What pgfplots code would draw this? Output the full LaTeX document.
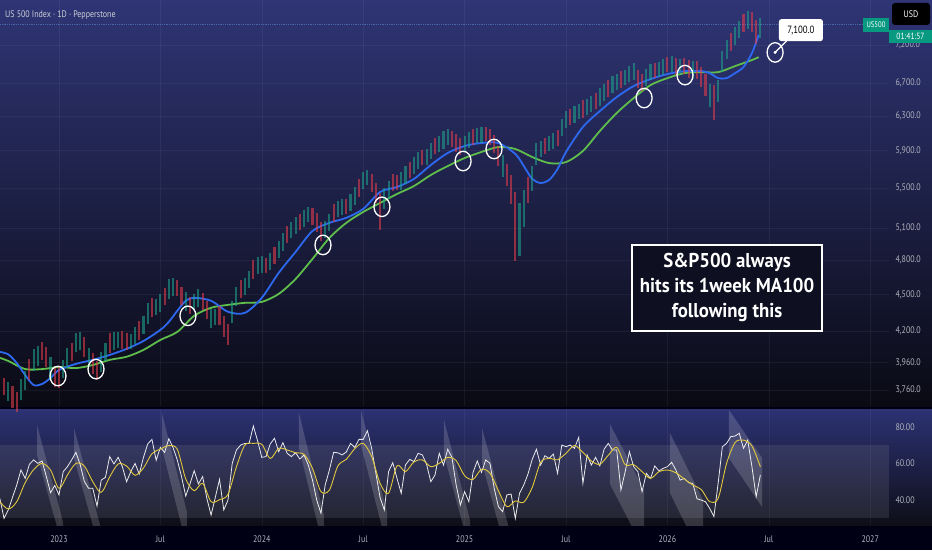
\documentclass[border=0pt]{standalone}
\usepackage{pgfplots}
\pgfplotsset{compat=1.18}
\usepackage{pgfplotstable}
\usepackage{fontspec}
\setmainfont{PT Sans}
\newfontfamily\uifont[FakeStretch=0.84]{PT Sans}
\newfontfamily\boxfont[FakeStretch=0.94]{PT Sans Bold}
\definecolor{bgtop}{RGB}{47,53,117}
\definecolor{bgmid}{RGB}{26,29,68}
\definecolor{bgbot}{RGB}{10,10,20}
\definecolor{rsitop}{RGB}{44,50,115}
\definecolor{rsibot}{RGB}{14,14,24}
\definecolor{tickc}{RGB}{178,181,190}
\definecolor{upc}{RGB}{30,160,138}
\definecolor{dnc}{RGB}{225,60,75}
\definecolor{mablue}{RGB}{45,105,240}
\definecolor{magreen}{RGB}{95,190,75}
\definecolor{rsiy}{RGB}{225,200,60}
\definecolor{tvteal}{RGB}{8,153,129}
\definecolor{boxfill}{RGB}{14,15,33}

% x = months since Jan 2023, m = price, e = half range, c = up(1)/down(0), r = RSI
\pgfplotstableread{
x m e c r
-3.50 3831 45 0 40.9
-3.25 3784 40 0 30.0
-3.00 3749 45 1 34.6
-2.75 3712 50 0 41.5
-2.50 3675 45 0 48.2
-2.25 3762 50 1 56.4
-2.00 3827 45 1 51.8
-1.75 3906 50 0 59.5
-1.50 3977 55 1 61.9
-1.25 4011 50 1 60.0
-1.00 4046 45 0 61.3
-0.75 4000 50 0 52.9
-0.50 3914 55 1 44.0
-0.25 3849 45 0 48.0
0.00 3848 50 0 42.8
0.25 3911 45 1 55.5
0.50 3994 50 1 58.2
0.75 4041 45 0 61.9
1.00 4111 50 1 66.0
1.25 4123 45 1 59.5
1.50 4077 50 0 50.2
1.75 4000 45 1 46.4
2.00 3953 50 0 46.4
2.25 3900 45 0 36.7
2.50 3965 50 1 50.9
2.75 4041 45 1 52.4
3.00 4108 50 0 63.7
3.25 4122 45 1 59.7
3.50 4131 40 1 63.3
3.75 4131 45 0 58.2
4.00 4119 45 0 50.0
4.25 4119 40 1 55.5
4.50 4166 45 1 60.0
4.75 4205 50 0 54.2
5.00 4249 50 1 63.3
5.25 4342 55 1 70.6
5.50 4391 50 0 73.1
5.75 4396 45 1 61.7
6.00 4432 50 1 68.7
6.25 4483 50 0 66.0
6.50 4548 55 1 73.5
6.75 4564 50 1 68.6
7.00 4556 45 0 61.9
7.25 4485 50 0 52.8
7.50 4441 50 1 42.2
7.75 4409 45 0 48.8
8.00 4437 45 1 56.0
8.25 4472 50 1 48.8
8.50 4442 45 0 52.8
8.75 4372 50 0 40.9
9.00 4301 50 1 31.8
9.25 4314 45 1 41.5
9.50 4325 50 0 51.3
9.75 4235 55 0 34.6
10.00 4170 55 0 40.0
10.25 4355 60 1 60.0
10.50 4482 55 1 67.3
10.75 4545 50 0 70.0
11.00 4570 50 1 70.9
11.25 4632 50 1 70.9
11.50 4717 55 0 80.4
11.75 4749 50 1 72.4
12.00 4761 50 1 63.3
12.25 4751 45 0 63.7
12.50 4789 50 1 70.6
12.75 4842 50 0 73.7
13.00 4898 55 1 66.4
13.25 4966 55 1 71.3
13.50 5038 55 0 65.5
13.75 5084 50 1 63.7
14.00 5124 55 1 65.8
14.25 5160 50 0 62.4
14.50 5197 55 1 64.6
14.75 5234 50 1 59.1
15.00 5209 55 0 50.9
15.25 5151 60 0 40.0
15.50 5070 60 0 32.8
15.75 5085 55 1 48.2
16.00 5152 55 1 56.4
16.25 5246 60 0 66.0
16.50 5287 55 1 65.8
16.75 5307 55 1 64.6
17.00 5307 50 0 66.2
17.25 5350 55 1 70.9
17.50 5416 60 1 68.7
17.75 5501 60 0 73.1
18.00 5575 60 1 73.1
18.25 5611 55 1 77.8
18.50 5553 60 0 68.2
18.75 5450 70 0 54.6
19.00 5260 120 0 41.3
19.25 5389 70 1 34.6
19.50 5480 60 1 55.5
19.75 5560 60 0 60.4
20.00 5556 55 0 51.8
20.25 5573 60 1 43.7
20.50 5636 60 1 59.1
20.75 5687 55 0 62.2
21.00 5737 60 1 61.0
21.25 5795 60 1 65.5
21.50 5823 55 0 64.6
21.75 5830 55 1 59.5
22.00 5897 60 1 50.0
22.25 5949 60 0 53.7
22.50 5980 60 1 65.5
22.75 6021 65 1 59.1
23.00 6051 60 1 67.7
23.25 6035 60 0 63.3
23.50 5987 65 0 48.2
23.75 5947 65 0 37.3
24.00 5977 60 1 44.6
24.25 6016 60 1 39.1
24.50 6055 60 0 55.1
24.75 6070 55 1 61.3
25.00 6079 60 1 55.1
25.25 6086 55 0 61.9
25.50 6053 60 0 60.0
25.75 5977 65 0 46.4
26.00 5841 75 0 36.4
26.25 5731 80 1 33.7
26.50 5636 75 0 42.8
26.75 5480 100 0 43.3
27.00 5115 220 0 30.0
27.25 5088 170 1 43.7
27.50 5290 120 1 48.2
27.75 5480 90 0 54.2
28.00 5600 90 1 62.2
28.25 5862 80 1 67.7
28.50 5919 60 1 59.1
28.75 5955 60 0 64.2
29.00 5980 55 1 62.7
29.25 6003 60 1 65.1
29.50 6041 60 0 54.6
29.75 6168 65 1 70.0
30.00 6258 65 1 69.1
30.25 6285 60 0 70.0
30.50 6315 65 1 68.2
30.75 6357 60 1 74.2
31.00 6385 70 0 49.1
31.25 6406 65 1 64.6
31.50 6441 65 1 59.1
31.75 6481 65 0 63.3
32.00 6527 70 1 58.6
32.25 6579 70 1 67.7
32.50 6631 70 0 70.9
32.75 6683 70 1 67.3
33.00 6716 65 1 67.3
33.25 6745 70 0 45.5
33.50 6768 65 1 55.5
33.75 6814 70 1 66.4
34.00 6849 70 1 58.2
34.25 6752 75 0 55.5
34.50 6709 75 0 44.6
34.75 6771 70 1 54.6
35.00 6844 70 1 51.8
35.25 6859 65 0 58.6
35.50 6880 65 1 55.9
35.75 6908 70 1 57.3
36.00 6939 65 0 58.2
36.25 6944 70 1 60.6
36.50 6913 70 0 56.4
36.75 6917 65 1 50.9
37.00 6917 70 0 51.8
37.25 6879 75 0 49.5
37.50 6867 75 1 49.1
37.75 6867 80 0 40.7
38.00 6774 85 0 40.0
38.25 6675 90 0 39.1
38.50 6549 95 1 35.5
38.75 6460 140 0 31.0
39.00 6602 90 1 49.1
39.25 6978 90 1 69.1
39.50 7139 85 1 70.9
39.75 7243 80 0 74.6
40.00 7325 80 1 74.9
40.25 7413 80 1 76.4
40.50 7501 85 0 68.2
40.75 7546 85 1 72.7
41.00 7519 90 0 58.2
41.25 7376 110 0 41.8
41.50 7433 90 1 53.7
}\pxdata

\pgfplotstableread{
x b
-3.5 4039
-3.0 4020
-2.5 3956
-2.0 3867
-1.5 3795
-1.0 3802
-0.5 3846
0 3904
1 3949
2 3979
3 4016
4 4062
5 4123
6 4210
6.5 4274
7 4364
7.5 4447
8 4472
9 4447
10 4356
11 4347
12 4472
13 4687
14 4876
15 5072
16 5150
17 5199
18 5287
19 5459
20 5510
21 5594
22 5743
23 5875
24 5952
25 5986
26 5986
27 5864
27.5 5732
28 5594
28.5 5552
29 5583
29.5 5700
30 5886
31 6169
32 6357
33 6527
34 6664
35 6752
36 6816
37 6854
38 6854
38.5 6828
39 6764
39.5 6764
40 6828
40.5 6906
41 7091
41.4 7335
}\bluema

\pgfplotstableread{
x g
-3.5 3994
-3 3971
-2 3911
-1 3911
0 3926
1 3918
2 3941
3 3979
4 4002
5 4054
6 4131
7 4194
8 4323
9 4389
10 4413
11 4430
12 4438
13 4505
14 4634
15 4812
16 5006
17 5150
18 5257
19 5347
20 5438
21 5520
22 5636
23 5732
24 5819
25 5886
26 5941
27 5919
28 5830
29 5764
30 5775
31 5897
32 6123
33 6334
34 6515
35 6676
36 6764
37 6828
38 6841
39 6841
40 6919
41 6998
41.4 7038
}\greenma

\pgfplotstableread{
x y
-3.5 39.1
-3.0 35.1
-2.5 39.1
-2.0 49.5
-1.5 56.6
-1.0 60.0
-0.5 56.4
0.0 46.4
0.5 53.7
1.0 60.0
1.5 58.6
2.0 50.0
2.5 44.2
3.0 52.6
3.5 59.7
4.0 58.6
4.5 53.5
5.0 57.5
5.5 65.3
6.0 67.8
6.5 69.7
7.0 67.7
7.5 51.5
8.0 45.1
8.5 49.1
9.0 39.1
9.5 40.2
10.0 43.1
10.5 58.2
11.0 70.0
11.5 70.9
12.0 70.4
12.5 62.7
13.0 68.2
13.5 67.3
14.0 65.8
14.5 64.9
15.0 57.3
15.5 44.6
16.0 45.5
16.5 58.6
17.0 62.2
17.5 68.0
18.0 70.9
18.5 63.7
19.0 49.1
19.5 43.7
20.0 58.7
20.5 55.5
21.0 60.8
21.5 61.9
22.0 58.2
22.5 60.0
23.0 63.3
23.5 61.5
24.0 53.3
24.5 51.3
25.0 56.8
25.5 54.6
26.0 45.1
26.5 36.4
27.0 39.5
27.5 38.8
28.0 46.9
28.5 60.6
29.0 62.7
29.5 62.0
30.0 65.5
30.5 69.8
31.0 66.0
31.5 61.3
32.0 59.5
32.5 64.4
33.0 68.7
33.5 59.3
34.0 59.3
34.5 55.5
35.0 51.8
35.5 55.5
36.0 56.4
36.5 54.9
37.0 51.5
37.5 48.2
38.0 45.8
38.5 39.1
39.0 40.9
39.5 60.0
40.0 71.3
40.5 72.7
41.0 69.5
41.5 58.2
}\rsima

\begin{document}
\begin{tikzpicture}[x=1pt,y=1pt]
\fill[black!92!blue] (0pt,0pt) rectangle (932pt,550pt);
\shade[top color=bgtop, middle color=bgmid, bottom color=bgbot] (0pt,144pt) rectangle (932pt,550pt);
\shade[top color=rsitop, bottom color=rsibot] (0pt,25pt) rectangle (932pt,141pt);

% ---------- main price panel ----------
\begin{axis}[
  at={(0pt,144pt)}, anchor=south west, scale only axis,
  width=889pt, height=406pt,
  xmin=-3.49, xmax=49.11,
  ymode=log, ymin=3648.5, ymax=7837,
  axis line style={draw=none}, major tick length=0pt,
  xtick={0,6,...,48}, xticklabels={},
  ytick={3760,3960,4200,4500,4800,5100,5500,5900,6300,6700,7200},
  yticklabels={{3,760.0},{3,960.0},{4,200.0},{4,500.0},{4,800.0},{5,100.0},{5,500.0},{5,900.0},{6,300.0},{6,700.0},{7,200.0}},
  yticklabel pos=right,
  yticklabel style={anchor=west, xshift=3pt, font=\uifont\fontsize{9.5}{11}\selectfont, text=tickc},
  grid=major, grid style={white, opacity=0.05, line width=0.6pt},
]
\addplot[densely dotted, color={rgb,255:red,90;green,140;blue,210}, opacity=0.6, line width=0.8pt] coordinates {(-3.49,7491) (49.11,7491)};
\addplot[scatter, only marks, mark=|,
  point meta=\thisrow{c}, point meta min=0, point meta max=1,
  colormap={candle}{color=(dnc) color=(upc)},
  scatter/use mapped color={draw=mapped color, fill=mapped color},
  visualization depends on={800*\thisrow{e}/\thisrow{m} \as \hr},
  scatter/@pre marker code/.append style={/tikz/mark size=\hr pt},
  mark options={line width=2.1pt, opacity=0.6}] table[x=x, y=m] {\pxdata};
\addplot[magreen, line width=1.8pt, smooth] table[x=x, y=g] {\greenma};
\addplot[mablue, line width=1.8pt, smooth] table[x=x, y=b] {\bluema};
\addplot[only marks, mark=o, mark size=8pt, white, line width=1.3pt, mark options={yscale=1.22}]
  coordinates {(-0.06,3860) (2.19,3911) (7.63,4323) (15.62,4940) (19.11,5308) (23.91,5786) (25.74,5919) (34.62,6515) (37.04,6803) (42.37,7100)};
\addplot[only marks, mark=*, mark size=1.3pt, white] coordinates {(42.37,7100)};
\draw[white, line width=1.2pt] (axis cs:42.37,7100) -- (axis cs:43.2,7290);
\node[fill=white, rounded corners=2.5pt, text=black, font=\uifont\fontsize{10.5}{12}\selectfont, minimum width=44pt, minimum height=22pt, inner sep=0pt] at (axis cs:43.9,7404) {7,100.0};
\node[draw=white, line width=1.6pt, fill=boxfill, text=white, align=center, font=\boxfont\fontsize{20}{25}\selectfont, minimum width=190pt, minimum height=86pt, inner sep=0pt] at (axis cs:39.53,4556) {S\&P500 always\\hits its 1week MA100\\following this};
\end{axis}

% ---------- RSI panel ----------
\begin{axis}[
  at={(0pt,25pt)}, anchor=south west, scale only axis,
  width=889pt, height=116pt,
  xmin=-3.49, xmax=49.11, ymin=26.4, ymax=89.66,
  axis line style={draw=none}, major tick length=0pt,
  xtick={0,6,...,48},
  xticklabels={2023,Jul,2024,Jul,2025,Jul,2026,Jul,2027},
  xticklabel style={anchor=base, yshift=-17pt, font=\uifont\fontsize{9.5}{11}\selectfont, text=tickc},
  ytick={40,60,80}, yticklabels={40.00,60.00,80.00},
  yticklabel pos=right,
  yticklabel style={anchor=west, xshift=3pt, font=\uifont\fontsize{9.5}{11}\selectfont, text=tickc},
  xmajorgrids, grid style={white, opacity=0.05, line width=0.6pt},
]
\addplot[fill={rgb,255:red,150;green,150;blue,165}, fill opacity=0.16, draw=none] coordinates {(-3.49,30) (49.11,30) (49.11,70) (-3.49,70)};
\addplot[fill=white, fill opacity=0.16, draw=none] coordinates {(-1.30,80.9) (0.24,28.0) (0.24,13.6) (-1.30,64.6)};
\addplot[fill=white, fill opacity=0.16, draw=none] coordinates {(0.89,79.3) (2.43,26.4) (2.43,12.0) (0.89,62.9)};
\addplot[fill=white, fill opacity=0.16, draw=none] coordinates {(6.09,87.5) (7.57,33.5) (7.57,14.4) (6.09,68.4)};
\addplot[fill=white, fill opacity=0.16, draw=none] coordinates {(14.20,87.5) (15.68,31.8) (15.68,12.7) (14.20,68.4)};
\addplot[fill=white, fill opacity=0.16, draw=none] coordinates {(17.87,89.1) (19.41,33.5) (19.41,14.4) (17.87,70.0)};
\addplot[fill=white, fill opacity=0.16, draw=none] coordinates {(22.78,83.7) (24.32,29.1) (24.32,12.0) (22.78,64.6)};
\addplot[fill=white, fill opacity=0.16, draw=none] coordinates {(25.03,79.3) (26.57,26.4) (26.57,7.3) (25.03,60.2)};
\addplot[fill=white, fill opacity=0.16, draw=none] coordinates {(32.60,81.5) (34.62,45.5) (34.62,12.7) (32.60,48.7)};
\addplot[fill=white, fill opacity=0.16, draw=none] coordinates {(36.15,76.6) (38.11,40.0) (38.11,7.3) (36.15,43.8)};
\addplot[fill=white, fill opacity=0.16, draw=none] coordinates {(39.64,89.1) (41.60,62.9) (41.60,36.2) (39.64,62.9)};
\addplot[white, opacity=0.9, line width=0.8pt] table[x=x, y=r] {\pxdata};
\addplot[rsiy, line width=0.9pt, smooth] table[x=x, y=y] {\rsima};
\end{axis}

\node[anchor=west, text={rgb,255:red,205;green,208;blue,216}, font=\uifont\fontsize{9.5}{11}\selectfont, inner sep=0pt] at (5pt,535pt) {US 500 Index · 1D · Pepperstone};
\node[fill=black, rounded corners=3pt, text=white, minimum width=38pt, minimum height=22pt, inner sep=0pt, font=\uifont\fontsize{9.5}{11}\selectfont] at (911pt,536pt) {USD};
\node[fill=tvteal, text=white, minimum width=26pt, minimum height=14pt, inner sep=0pt, font=\uifont\fontsize{8}{9}\selectfont] at (876pt,525pt) {US500};
\node[fill=tvteal, text=white, minimum width=43pt, minimum height=13pt, inner sep=0pt, font=\uifont\fontsize{9}{10}\selectfont] at (910.5pt,513.5pt) {01:41:57};
\pgfresetboundingbox
\path[use as bounding box] (0pt,0pt) rectangle (932pt,550pt);
\end{tikzpicture}
\end{document}
